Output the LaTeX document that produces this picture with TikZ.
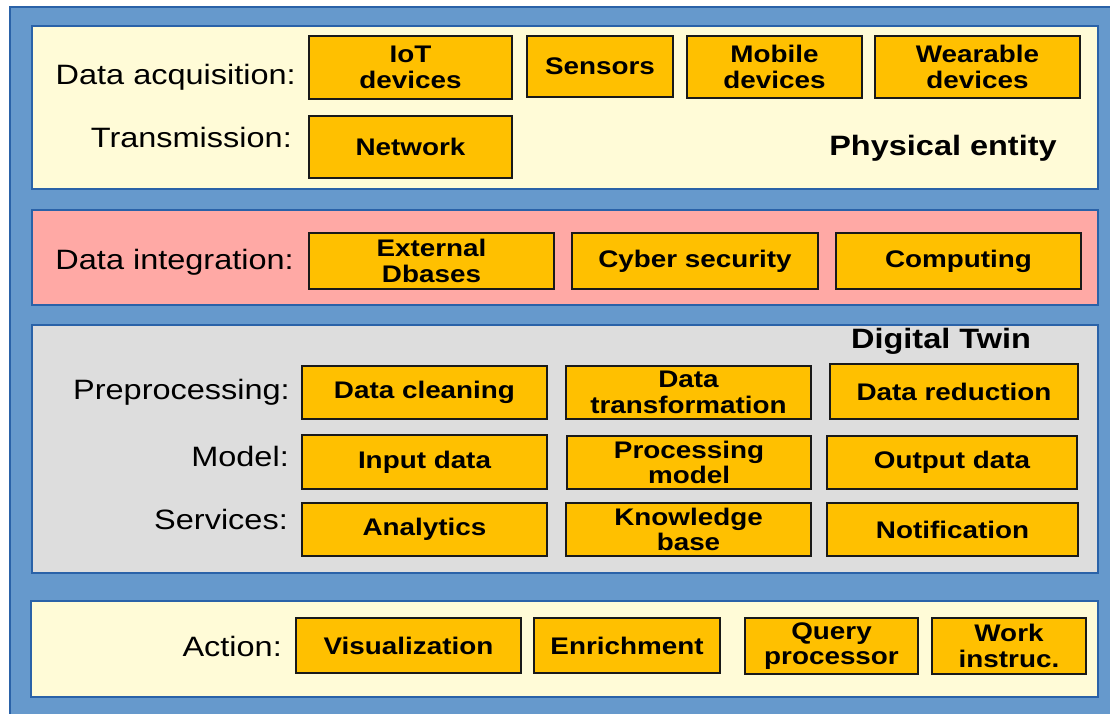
\documentclass[tikz,border=0pt]{standalone}
\usepackage{fontspec}
\setmainfont[FakeStretch=1.16]{Liberation Sans}
\definecolor{frameblue}{HTML}{6699CC}
\definecolor{edgeblue}{HTML}{2A62A8}
\definecolor{creamfill}{HTML}{FFFBD7}
\definecolor{pinkfill}{HTML}{FFA9A5}
\definecolor{greyfill}{HTML}{DDDDDD}
\definecolor{boxorange}{HTML}{FFC000}
\tikzset{
  panel/.style={draw=edgeblue, line width=1.2pt},
  itembox/.style={draw=black!90, line width=1.4pt, fill=boxorange, align=center,
    inner sep=0pt, font=\fontsize{24}{25.5}\selectfont\bfseries},
  rowlabel/.style={anchor=base east, inner sep=0pt, font=\fontsize{28}{30}\selectfont},
  layertitle/.style={anchor=base, inner sep=0pt, font=\fontsize{28}{30}\selectfont\bfseries}
}
% box given by its corners: name, x1, y1, x2, y2, text
\newcommand\itemat[6]{%
  \node[itembox, minimum width={#4pt-#2pt}, minimum height={#5pt-#3pt}]
    (#1) at ({(#2+#4)/2},{(#3+#5)/2}) {#6};}
\begin{document}
\begin{tikzpicture}[x=1pt,y=-1pt]
\useasboundingbox (0,0) rectangle (1110,714);
\fill[white] (0,0) rectangle (1110,714);
% outer frame
\draw[fill=frameblue, draw=edgeblue, line width=1.2pt] (10,7) rectangle (1125,730);

% physical layer
\draw[panel, fill=creamfill] (32,26) rectangle (1098,189);
\node[rowlabel] (lacq) at (296,85) {Data acquisition:};
\node[rowlabel] (ltrans) at (292,148) {Transmission:};
\itemat{iot}{309}{36}{512}{99}{IoT\\devices}
\itemat{sensors}{527}{36}{673}{97}{Sensors}
\itemat{mobile}{687}{36}{862}{98}{Mobile\\devices}
\itemat{wearable}{875}{36}{1080}{98}{Wearable\\devices}
\itemat{network}{309}{116}{512}{178}{Network}
\node[layertitle] (physical) at (943,156) {Physical entity};

% integration layer
\draw[panel, fill=pinkfill] (32,210) rectangle (1098,305);
\node[rowlabel] (linteg) at (294,269) {Data integration:};
\itemat{extdb}{309}{233}{554}{289}{External\\Dbases}
\itemat{cyber}{572}{233}{818}{289}{Cyber security}
\itemat{computing}{836}{233}{1081}{289}{Computing}

% digital twin layer
\draw[panel, fill=greyfill] (32,325) rectangle (1098,573);
\node[layertitle] (twin) at (941,348) {Digital Twin};
\node[rowlabel] (lprep) at (290,399) {Preprocessing:};
\node[rowlabel] (lmodel) at (289,466) {Model:};
\node[rowlabel] (lserv) at (288,529) {Services:};
\itemat{clean}{302}{366}{547}{419}{Data cleaning}
\itemat{transf}{566}{366}{811}{419}{Data\\transformation}
\itemat{reduct}{830}{364}{1078}{419}{Data reduction}
\itemat{input}{302}{435}{547}{489}{Input data}
\itemat{procmodel}{567}{436}{811}{489}{Processing\\model}
\itemat{output}{827}{436}{1077}{489}{Output data}
\itemat{analytics}{302}{503}{547}{556}{Analytics}
\itemat{knowledge}{566}{503}{811}{556}{Knowledge\\base}
\itemat{notif}{827}{503}{1078}{556}{Notification}

% action layer
\draw[panel, fill=creamfill] (31,601) rectangle (1098,697);
\node[rowlabel] (laction) at (282,656) {Action:};
\itemat{visual}{296}{618}{521}{673}{Visualization}
\itemat{enrich}{534}{618}{720}{673}{Enrichment}
\itemat{query}{745}{618}{918}{674}{Query\\processor}
\itemat{work}{932}{618}{1086}{674}{Work\\instruc.}
\end{tikzpicture}
\end{document}
